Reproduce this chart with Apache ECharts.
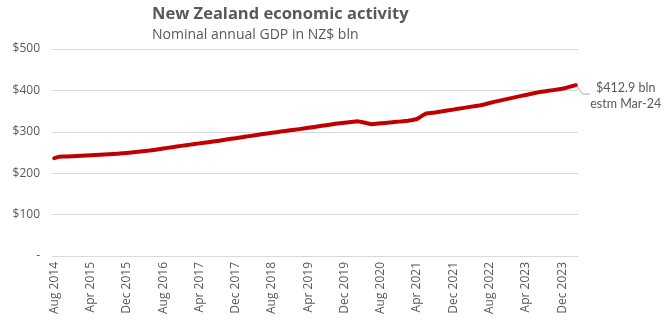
<!DOCTYPE html>
<html>
<head>
<meta charset="utf-8">
<title>New Zealand economic activity</title>
<script src="https://cdn.jsdelivr.net/npm/echarts@6/dist/echarts.min.js"></script>
<style>
  html, body { margin: 0; padding: 0; background: #ffffff; }
  #chart { width: 664px; height: 322px; }
</style>
</head>
<body>
<div id="chart"></div>
<script>
// Monthly series, Aug 2014 to Mar 2024
const startYear = 2014;
const startMonth = 7; // August (0-based)
const monthNames = ['Jan', 'Feb', 'Mar', 'Apr', 'May', 'Jun', 'Jul', 'Aug', 'Sep', 'Oct', 'Nov', 'Dec'];

// Nominal annual GDP, NZ$ billion
const gdp = [
  236.5, 239.6, 240.1, 240.6, 241.1, 241.6, 242.1, 242.7, 243.3, 243.9,
  244.5, 245.1, 245.7, 246.4, 247.2, 248.1, 249.0, 250.0, 251.1, 252.2,
  253.4, 254.6, 256.2, 257.9, 259.6, 261.2, 262.9, 264.5, 266.0, 267.5,
  269.0, 270.5, 272.0, 273.5, 275.0, 276.5, 278.0, 279.6, 281.3, 283.0,
  284.6, 286.3, 288.0, 289.6, 291.3, 293.0, 294.5, 296.0, 297.5, 299.0,
  300.5, 302.0, 303.5, 305.0, 306.5, 308.0, 309.6, 311.2, 312.8, 314.4,
  316.0, 317.6, 319.2, 320.8, 322.0, 323.2, 324.3, 325.2, 323.0, 320.5,
  318.4, 319.4, 320.5, 321.5, 322.5, 323.5, 324.6, 325.6, 326.8, 328.5,
  331.0, 338.0, 344.0, 345.3, 346.6, 348.4, 350.1, 351.9, 353.6, 355.5,
  357.2, 359.0, 360.8, 362.5, 364.3, 366.6, 369.5, 372.3, 374.8, 377.2,
  379.6, 382.0, 384.3, 386.7, 389.0, 391.3, 393.6, 395.9, 397.5, 399.1,
  400.7, 402.3, 403.9, 406.5, 409.8, 412.9
];

// Category labels: "Aug 2014", "Sep 2014", ...
const months = gdp.map((_, i) => {
  const m = (startMonth + i) % 12;
  const y = startYear + Math.floor((startMonth + i) / 12);
  return monthNames[m] + ' ' + y;
});

const yTicks = [0, 100, 200, 300, 400, 500];

const textColor = '#595959';
const fontFamily = '"Open Sans", "Liberation Sans", sans-serif';
const calloutFont = 'Lato, "Open Sans", sans-serif';

const lastIdx = gdp.length - 1;
const lastMonth = months[lastIdx].split(' ');
const lastTag = 'estm ' + lastMonth[0] + '-' + lastMonth[1].slice(2);

// Only the final point carries a callout label
const seriesData = gdp.map((v, i) => {
  if (i !== lastIdx) return v;
  return {
    value: v,
    label: {
      show: true,
      position: 'right',
      distance: 0,
      offset: [19, 11],
      align: 'left',
      formatter: (p) => '{a|$' + p.value.toFixed(1) + ' bln}\n{a|' + lastTag + '}',
      rich: {
        a: { color: textColor, fontFamily: calloutFont, fontSize: 12.5, lineHeight: 16, align: 'center', width: 62 }
      }
    }
  };
});

const chart = echarts.init(document.getElementById('chart'), null, { renderer: 'canvas' });

chart.setOption({
  backgroundColor: '#ffffff',
  animation: false,
  title: {
    text: 'New Zealand economic activity',
    subtext: 'Nominal annual GDP in NZ$ bln',
    left: 147,
    top: 1,
    itemGap: 5,
    textStyle: {
      color: textColor,
      fontFamily: fontFamily,
      fontSize: 16.5,
      fontWeight: 'bold'
    },
    subtextStyle: {
      color: textColor,
      fontFamily: fontFamily,
      fontSize: 14
    }
  },
  grid: {
    left: 52,
    right: 86,
    top: 49,
    bottom: 66,
    containLabel: false
  },
  xAxis: {
    type: 'category',
    data: months,
    boundaryGap: true,
    axisLine: { show: true, lineStyle: { color: '#d9d9d9', width: 1 } },
    axisTick: { show: false },
    axisLabel: {
      interval: 7,
      rotate: 90,
      color: textColor,
      fontFamily: fontFamily,
      fontSize: 12,
      margin: 6
    },
    splitLine: { show: false }
  },
  yAxis: {
    type: 'value',
    min: yTicks[0],
    max: yTicks[yTicks.length - 1],
    interval: 100,
    axisLine: { show: false },
    axisTick: { show: false },
    axisLabel: {
      color: textColor,
      fontFamily: fontFamily,
      fontSize: 12,
      margin: 12,
      formatter: (v) => (v === 0 ? '-' : '$' + v)
    },
    splitLine: { show: true, lineStyle: { color: '#d9d9d9', width: 1 } }
  },
  series: [{
    type: 'line',
    data: seriesData,
    showSymbol: true,
    showAllSymbol: true,
    symbol: 'circle',
    symbolSize: 0,
    smooth: false,
    lineStyle: { color: '#c00000', width: 4, cap: 'round', join: 'round' },
    itemStyle: { color: '#c00000' },
    emphasis: { disabled: true }
  }]
});

// Leader line from the final point towards its callout
const end = chart.convertToPixel({ seriesIndex: 0 }, [lastIdx, gdp[lastIdx]]);
chart.setOption({
  graphic: [{
    type: 'polyline',
    silent: true,
    z: 1,
    shape: { points: [[end[0] + 1, end[1] + 1], [end[0] + 7, end[1] + 9], [end[0] + 14, end[1] + 9]] },
    style: { stroke: '#a6a6a6', lineWidth: 1, fill: null }
  }]
});
</script>
</body>
</html>
